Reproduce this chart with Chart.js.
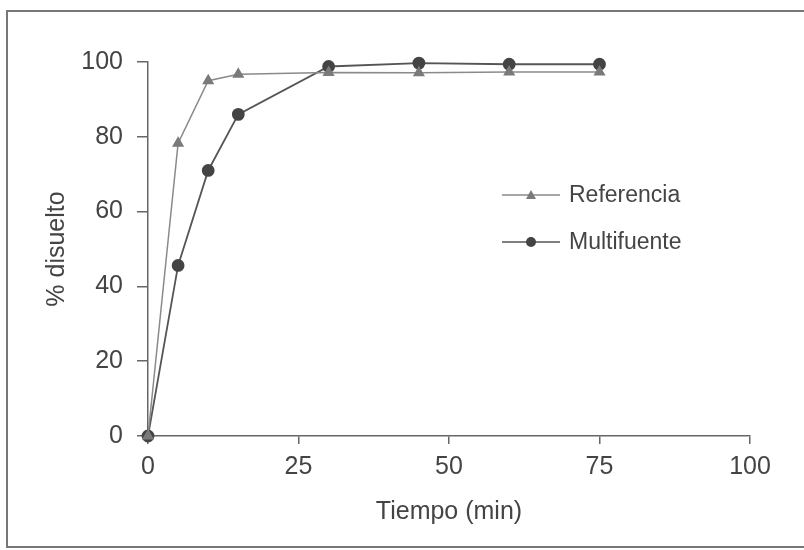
<!DOCTYPE html>
<html>
<head>
<meta charset="utf-8">
<script src="https://cdn.jsdelivr.net/npm/chart.js@4/dist/chart.umd.min.js"></script>
<style>
  html, body { margin: 0; padding: 0; background: #fff; }
  #wrap { width: 804px; height: 550px; }
</style>
</head>
<body>
<div id="wrap"><canvas id="disol" width="804" height="550"></canvas></div>
<script>
// data
var tiempo = [0, 5, 10, 15, 30, 45, 60, 75];
var referencia = [0, 78.3, 95, 96.7, 97.2, 97.1, 97.3, 97.3];
var multifuente = [0, 45.6, 71, 86, 98.8, 99.7, 99.4, 99.4];
var xTicks = [0, 25, 50, 75, 100];
var yTicks = [0, 20, 40, 60, 80, 100];

var fuente = '"Liberation Sans", Arial, sans-serif';

function pares(ys) {
    return tiempo.map(function (t, i) { return { x: t, y: ys[i] }; });
}

// outer frame around the figure
var marco = {
    id: 'marco',
    afterDraw: function (chart) {
        var c = chart.ctx;
        c.save();
        c.strokeStyle = '#777';
        c.lineWidth = 2;
        c.strokeRect(7, 11, 800, 536);
        c.restore();
    }
};

// legend drawn inside the plot, as in the original
var leyenda = {
    id: 'leyenda',
    afterDraw: function (chart) {
        var c = chart.ctx;
        var items = chart.data.datasets;
        var y0 = 195, gap = 47;
        c.save();
        items.forEach(function (ds, i) {
            var y = y0 + i * gap;
            c.strokeStyle = ds.borderColor;
            c.lineWidth = 1.5;
            c.beginPath();
            c.moveTo(502, y);
            c.lineTo(560, y);
            c.stroke();
            c.fillStyle = ds.pointBackgroundColor;
            c.beginPath();
            if (ds.pointStyle === 'triangle') {
                c.moveTo(531, y - 5);
                c.lineTo(536, y + 4);
                c.lineTo(526, y + 4);
                c.closePath();
            } else {
                c.arc(531, y, 5, 0, Math.PI * 2);
            }
            c.fill();
            c.fillStyle = '#444';
            c.font = '23px ' + fuente;
            c.textBaseline = 'middle';
            c.fillText(ds.label, 569, y + 1);
        });
        c.restore();
    }
};

var ctx = document.getElementById('disol').getContext('2d');
var chart = new Chart(ctx, {
    type: 'line',
    data: {
        datasets: [{
            label: 'Referencia',
            data: pares(referencia),
            borderColor: '#8a8a8a',
            borderWidth: 1.5,
            pointStyle: 'triangle',
            pointRadius: 5.5,
            pointBackgroundColor: '#7a7a7a',
            pointBorderColor: '#7a7a7a',
            tension: 0,
            clip: false
        }, {
            label: 'Multifuente',
            data: pares(multifuente),
            borderColor: '#555',
            borderWidth: 1.8,
            pointStyle: 'circle',
            pointRadius: 5.5,
            pointBackgroundColor: '#444',
            pointBorderColor: '#444',
            tension: 0,
            clip: false
        }]
    },
    plugins: [marco, leyenda],
    options: {
        responsive: false,
        animation: false,
        layout: { padding: { left: 38, right: 54, top: 62, bottom: 19 } },
        plugins: {
            legend: { display: false },
            tooltip: { enabled: false }
        },
        scales: {
            x: {
                type: 'linear',
                min: 0, max: 100,
                afterBuildTicks: function (s) { s.ticks = xTicks.map(function (v) { return { value: v }; }); },
                afterFit: function (s) { s.height = 95; },
                grid: { drawOnChartArea: false, drawTicks: true, tickLength: 8, color: '#666', lineWidth: 1.5 },
                border: { display: true, color: '#666', width: 1.5 },
                ticks: { color: '#444', padding: 8, maxRotation: 0, font: { family: fuente, size: 25 } },
                title: { display: true, text: 'Tiempo (min)', color: '#444', padding: { top: 10 }, font: { family: fuente, size: 25 } }
            },
            y: {
                type: 'linear',
                min: 0, max: 100,
                afterBuildTicks: function (s) { s.ticks = yTicks.map(function (v) { return { value: v }; }); },
                afterFit: function (s) { s.width = 110; },
                grid: { drawOnChartArea: false, drawTicks: true, tickLength: 11, color: '#666', lineWidth: 1.5 },
                border: { display: true, color: '#666', width: 1.5 },
                ticks: { color: '#444', padding: 14, font: { family: fuente, size: 25 } },
                title: { display: true, text: '% disuelto', color: '#444', padding: { bottom: 10 }, font: { family: fuente, size: 25 } }
            }
        }
    }
});
</script>
</body>
</html>
